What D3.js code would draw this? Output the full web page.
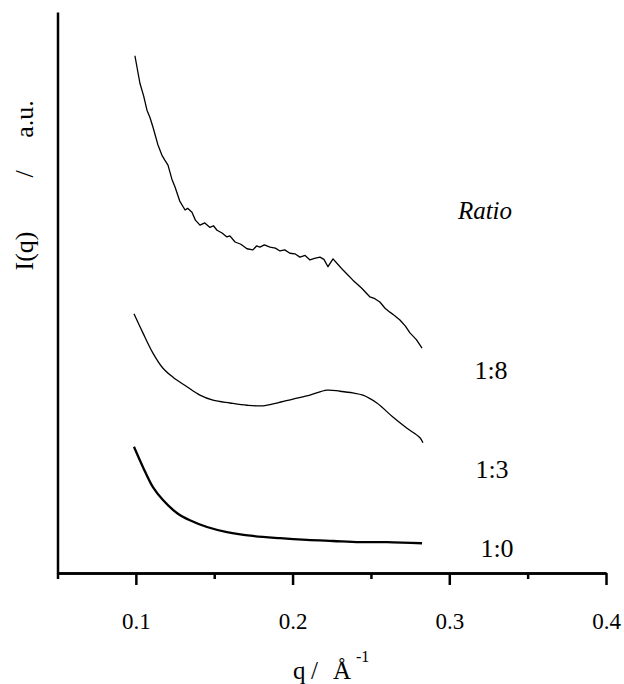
<!DOCTYPE html>
<html>
<head>
<meta charset="utf-8">
<script src="https://cdn.jsdelivr.net/npm/d3@7"></script>
<style>
  html, body { margin: 0; padding: 0; background: #fff; }
  svg { display: block; }
  text { font-family: "Liberation Serif", "Times New Roman", "DejaVu Serif", serif; fill: #000; }
</style>
</head>
<body>
<svg id="chart" width="624" height="684"></svg>
<script>
// ---- data ----
const seriesNames = ["1:8", "1:3", "1:0"];

const q18 = [0.0994, 0.1026, 0.1050, 0.1071, 0.1090, 0.1109, 0.1140, 0.1166, 0.1185, 0.1205, 0.1230, 0.1250, 0.1280, 0.1314, 0.1330, 0.1358, 0.1380, 0.1409, 0.1440, 0.1473, 0.1495, 0.1518, 0.1550, 0.1581, 0.1600, 0.1633, 0.1670, 0.1709, 0.1747, 0.1770, 0.1792, 0.1820, 0.1856, 0.1890, 0.1920, 0.1950, 0.1983, 0.2015, 0.2047, 0.2080, 0.2111, 0.2140, 0.2175, 0.2200, 0.2226, 0.2258, 0.2290, 0.2322, 0.2350, 0.2385, 0.2440, 0.2494, 0.2525, 0.2557, 0.2590, 0.2621, 0.2650, 0.2685, 0.2720, 0.2749, 0.2790, 0.2826];
const v18 = [92.2, 87.3, 85.0, 82.5, 81.2, 79.5, 76.4, 74.5, 73.6, 72.7, 70.2, 68.8, 66.3, 64.7, 65.0, 64.3, 62.9, 62.0, 62.4, 61.6, 61.9, 61.1, 60.6, 59.9, 60.1, 59.0, 58.6, 57.8, 57.6, 58.3, 58.1, 58.5, 58.1, 57.9, 57.4, 57.6, 57.0, 56.9, 56.3, 56.6, 55.8, 56.1, 56.3, 55.9, 54.6, 56.0, 55.0, 54.0, 53.2, 52.2, 50.8, 49.2, 48.9, 48.3, 47.2, 46.5, 45.9, 45.1, 44.0, 42.8, 41.6, 40.1];

const q13 = [0.0988, 0.1045, 0.1109, 0.1173, 0.1237, 0.1326, 0.1409, 0.1492, 0.1601, 0.1709, 0.1811, 0.1900, 0.2003, 0.2111, 0.2219, 0.2302, 0.2385, 0.2449, 0.2538, 0.2640, 0.2730, 0.2813, 0.2832];
const v13 = [46.2, 42.8, 39.2, 36.5, 34.9, 33.2, 31.7, 30.8, 30.3, 29.9, 29.8, 30.3, 31.0, 31.7, 32.6, 32.4, 32.1, 31.7, 30.3, 27.8, 25.8, 24.1, 23.2];

const q10 = [0.0988, 0.1045, 0.1109, 0.1173, 0.1262, 0.1345, 0.1454, 0.1581, 0.1747, 0.1920, 0.2092, 0.2258, 0.2430, 0.2602, 0.2826];
const v10 = [22.5, 18.9, 15.3, 13.0, 10.7, 9.4, 8.2, 7.3, 6.6, 6.2, 5.9, 5.7, 5.5, 5.5, 5.3];

const majorTicks = [0.1, 0.2, 0.3, 0.4];
const minorTicks = [0.05, 0.15, 0.25, 0.35];
const tickLabels = ["0.1", "0.2", "0.3", "0.4"];

// ---- chart ----
const svg = d3.select("#chart");
const x = d3.scaleLinear().domain([0.05, 0.4]).range([57.5, 606]);
const y = d3.scaleLinear().domain([0, 100]).range([573, 12]);

const series = [
  { name: "1:8", pts: d3.zip(q18, v18), w: 1.3, curve: d3.curveLinear },
  { name: "1:3", pts: d3.zip(q13, v13), w: 1.3, curve: d3.curveCatmullRom },
  { name: "1:0", pts: d3.zip(q10, v10), w: 2.3, curve: d3.curveCatmullRom }
];

svg.selectAll("path.series").data(series).join("path")
  .attr("class", "series")
  .attr("d", d => d3.line().x(p => x(p[0])).y(p => y(p[1])).curve(d.curve)(d.pts))
  .attr("fill", "none")
  .attr("stroke", "#000")
  .attr("stroke-width", d => d.w)
  .attr("stroke-linejoin", "round");

// x axis: minor ticks
const gMinor = svg.append("g").attr("transform", `translate(0,${y(0)})`)
  .call(d3.axisBottom(x).tickValues(minorTicks).tickSize(6).tickSizeOuter(0).tickFormat(""));
// x axis: major ticks
const gMajor = svg.append("g").attr("transform", `translate(0,${y(0)})`)
  .call(d3.axisBottom(x).tickValues(majorTicks).tickSize(12).tickSizeOuter(0)
    .tickFormat((d, i) => tickLabels[i]).tickPadding(30));
[gMinor, gMajor].forEach(g => {
  g.attr("font-family", null);
  g.select(".domain").attr("stroke", "#000").attr("stroke-width", 2.5);
  g.selectAll(".tick line").attr("stroke", "#000").attr("stroke-width", 2.5);
});
gMajor.selectAll(".tick text")
  .attr("font-size", 23)
  .attr("dy", null)
  .attr("y", 56);

// y axis (no ticks)
const gY = svg.append("g").attr("transform", `translate(${x(0.05)},0)`)
  .call(d3.axisLeft(y).tickValues([]).tickSizeOuter(0));
gY.select(".domain").attr("stroke", "#000").attr("stroke-width", 2.5);

// axis titles
const xt = svg.append("text").attr("y", 679).attr("font-size", 25);
xt.append("tspan").attr("x", 293).text("q");
xt.append("tspan").attr("x", 311).text("/");
xt.append("tspan").attr("x", 333).text("Å");
svg.append("text").attr("x", 356).attr("y", 662).attr("font-size", 16).text("-1");

const yl = [["I(q)", 251], ["/", 174], ["a.u.", 119]];
yl.forEach(([t, cy]) => {
  svg.append("text")
    .attr("transform", `translate(33,${cy}) rotate(-90)`)
    .attr("text-anchor", "middle")
    .attr("font-size", 26)
    .text(t);
});

// legend / labels
svg.append("text").attr("x", 485).attr("y", 219).attr("text-anchor", "middle")
  .attr("font-size", 25).attr("font-style", "italic").text("Ratio");
const labelPos = [[491, 379], [492, 478], [497, 557]];
seriesNames.forEach((n, i) => {
  svg.append("text").attr("x", labelPos[i][0]).attr("y", labelPos[i][1])
    .attr("text-anchor", "middle").attr("font-size", 26).text(n);
});
</script>
</body>
</html>
